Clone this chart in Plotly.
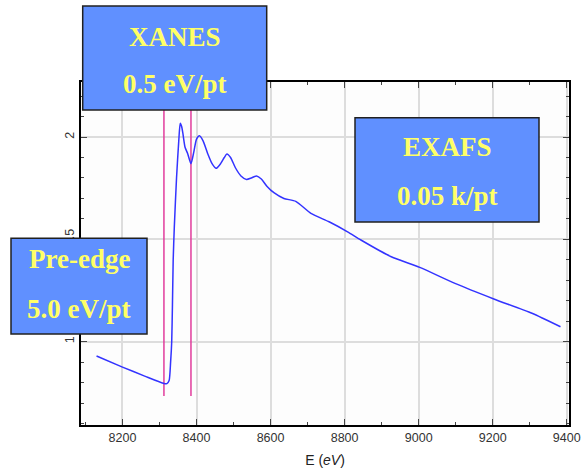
import plotly.graph_objects as go

# ---- data ----
energy = [8130, 8200, 8260, 8310, 8320, 8326, 8330, 8333, 8335, 8337, 8340, 8346, 8352,
          8356, 8360, 8363, 8369, 8376, 8385, 8393, 8400, 8408, 8418, 8430, 8442, 8453,
          8465, 8475, 8482, 8492, 8505, 8520, 8535, 8548, 8562, 8575, 8590, 8609, 8636,
          8668, 8709, 8758, 8808, 8844, 8926, 9003, 9098, 9203, 9306, 9383]
absorb = [0.93, 0.876, 0.832, 0.797, 0.795, 0.81, 0.90, 1.00, 1.18, 1.40, 1.56, 1.80, 1.98,
          2.067, 2.05, 2.02, 1.95, 1.92, 1.87, 1.93, 1.99, 2.006, 1.98, 1.92, 1.87, 1.847,
          1.87, 1.90, 1.917, 1.90, 1.85, 1.81, 1.793, 1.80, 1.81, 1.795, 1.76, 1.728, 1.70,
          1.686, 1.627, 1.586, 1.537, 1.497, 1.415, 1.363, 1.285, 1.209, 1.139, 1.073]

edge_lines = [8312, 8385]
edge_line_range = [0.735, 2.2]

x_ticks = [8200, 8400, 8600, 8800, 9000, 9200, 9400]
y_ticks = [1, 1.5, 2]
y_tick_text = ["1", "1.5", "2"]

boxes = [
    {"title": "XANES", "sub": "0.5 eV/pt", "px": (82.7, 266.7), "py": (6, 110), "ty": (37, 84)},
    {"title": "EXAFS", "sub": "0.05 k/pt", "px": (355, 539), "py": (117.7, 222), "ty": (147, 196)},
    {"title": "Pre-edge", "sub": "5.0 eV/pt", "px": (11, 147), "py": (238.3, 334), "ty": (259, 309)},
]

# ---- layout geometry (pixels) ----
W, H = 582, 473
L, R, T, B = 81, 569, 82, 425


def xp(px):
    return (px - L) / (R - L)


def yp(py):
    return (B - py) / (B - T)


fig = go.Figure()

for xv in edge_lines:
    fig.add_trace(go.Scatter(x=[xv, xv], y=edge_line_range, mode="lines",
                             line=dict(color="#e03c9c", width=1.5),
                             hoverinfo="skip", showlegend=False))

fig.add_trace(go.Scatter(x=energy, y=absorb, mode="lines",
                         line=dict(color="#3333ff", width=1.5, shape="spline", smoothing=0.6),
                         showlegend=False))

shapes = []
annotations = []
for b in boxes:
    shapes.append(dict(type="rect", xref="paper", yref="paper",
                       x0=xp(b["px"][0]), x1=xp(b["px"][1]),
                       y0=yp(b["py"][1]), y1=yp(b["py"][0]),
                       fillcolor="#6090ff", line=dict(color="#202020", width=1.5),
                       layer="above"))
    cx = xp((b["px"][0] + b["px"][1]) / 2)
    for txt, ty in [(b["title"], b["ty"][0]), (b["sub"], b["ty"][1])]:
        annotations.append(dict(xref="paper", yref="paper", x=cx, y=yp(ty),
                                text="<b>" + txt + "</b>", showarrow=False,
                                xanchor="center", yanchor="middle",
                                font=dict(family="Liberation Serif", size=27, color="#ffff66")))

fig.update_layout(
    width=W, height=H,
    margin=dict(l=L, r=W - R, t=T, b=H - B),
    paper_bgcolor="white",
    plot_bgcolor="#fdfdfd",
    shapes=shapes,
    annotations=annotations,
    font=dict(family="Liberation Sans", size=12, color="#333333"),
    xaxis=dict(range=[8088, 9406], tickvals=x_ticks, ticks="inside", ticklen=6,
               minor=dict(dtick=100, ticks="inside", ticklen=3, showgrid=False),
               showline=True, linecolor="black", linewidth=1.5, mirror="ticks",
               showgrid=True, gridcolor="#dddddd", gridwidth=1.5, zeroline=False,
               automargin=False,
               title=dict(text="E (<i>eV</i>)", font=dict(size=14, color="#222222"), standoff=11),
               tickfont=dict(size=12.5, color="#333333")),
    yaxis=dict(range=[0.593, 2.269], tickvals=y_ticks, ticktext=y_tick_text,
               ticks="inside", ticklen=6, tickangle=-90,
               minor=dict(dtick=0.1, ticks="inside", ticklen=3, showgrid=False),
               showline=True, linecolor="black", linewidth=1.5, mirror="ticks",
               showgrid=True, gridcolor="#dddddd", gridwidth=1.5, zeroline=False,
               automargin=False,
               tickfont=dict(size=12.5, color="#333333")),
)

fig.write_html("out.html", config={"displayModeBar": False},
               post_script="document.body.style.margin='0';")
